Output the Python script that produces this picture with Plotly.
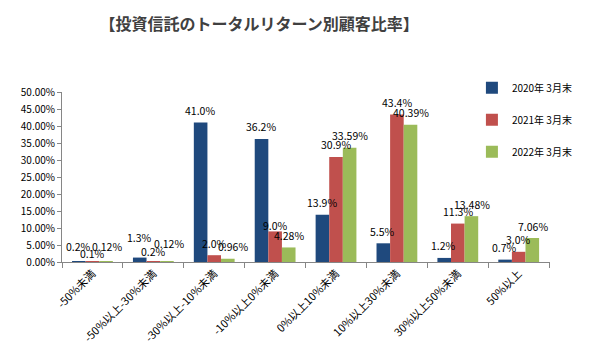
import plotly.graph_objects as go

categories = ["-50%未満", "-50%以上-30%未満", "-30%以上-10%未満", "-10%以上0%未満",
              "0%以上10%未満", "10%以上30%未満", "30%以上50%未満", "50%以上"]
series_names = ["2020年 3月末", "2021年 3月末", "2022年 3月末"]
values_2020 = [0.2, 1.3, 41.0, 36.2, 13.9, 5.5, 1.2, 0.7]
values_2021 = [0.1, 0.2, 2.0, 9.0, 30.9, 43.4, 11.3, 3.0]
values_2022 = [0.12, 0.12, 0.96, 4.28, 33.59, 40.39, 13.48, 7.06]
y_ticks = [0, 5, 10, 15, 20, 25, 30, 35, 40, 45, 50]

# styling
colors = ["#1F497D", "#C0504D", "#9BBB59"]
label_fmt = ["{:.1f}%", "{:.1f}%", "{:.2f}%"]
FONT = "Noto Sans CJK JP, Noto Sans, sans-serif"
BAR_PX = 14.3          # approximate bar width in pixels (for label centring)
BASE_LIFT = 12         # label centre above bar top, px
# manual nudges of a few labels (series, category index) -> (dx, dy) px, as in the source
nudges = {(0, 0): (0, 3), (1, 0): (0, -4), (2, 0): (0, 3),
          (0, 1): (0, 8), (1, 1): (0, -2), (2, 1): (1, 6),
          (2, 2): (4, 0), (1, 3): (0, -6)}

all_series = [values_2020, values_2021, values_2022]

fig = go.Figure()
for i, (name, vals) in enumerate(zip(series_names, all_series)):
    fig.add_trace(go.Bar(
        x=categories, y=vals, name=name,
        marker=dict(color=colors[i], line=dict(width=0)),
        legendgroup=str(i),
    ))

annotations = []
for i, vals in enumerate(all_series):
    for j, (c, v) in enumerate(zip(categories, vals)):
        dx, dy = nudges.get((i, j), (0, 0))
        annotations.append(dict(
            x=c, y=v, xref="x", yref="y", text=label_fmt[i].format(v),
            showarrow=False, xanchor="center", yanchor="middle",
            xshift=(i - 1) * BAR_PX + dx, yshift=BASE_LIFT + dy,
            font=dict(family=FONT, size=10.5, color="#000000"),
        ))

fig.update_layout(
    width=589, height=350,
    margin=dict(l=62, r=15, t=92, b=88),
    paper_bgcolor="white", plot_bgcolor="white",
    barmode="group", bargap=0.33, bargroupgap=0,
    title=dict(text="<b>【投資信託のトータルリターン別顧客比率】</b>",
               x=0.44, xanchor="center", y=0.93, yanchor="middle",
               font=dict(family=FONT, size=16, color="#404040")),
    font=dict(family=FONT, size=10.5, color="#000000"),
    annotations=annotations,
    showlegend=True,
    legend=dict(x=0.84, y=1.11, xanchor="left", yanchor="top",
                bgcolor="rgba(0,0,0,0)", tracegroupgap=13,
                font=dict(family=FONT, size=10, color="#000000"),
                itemwidth=30),
    xaxis=dict(showline=True, linecolor="#868686", linewidth=1, automargin=False,
               ticks="outside", tickson="boundaries", ticklen=5, tickcolor="#868686",
               tickangle=-45, tickfont=dict(family=FONT, size=11, color="#000000"),
               showgrid=False, zeroline=False),
    yaxis=dict(range=[0, 50], tickvals=y_ticks, automargin=False,
               ticktext=[f"{v:.2f}%" for v in y_ticks],
               showline=True, linecolor="#868686", linewidth=1,
               ticks="outside", ticklen=4, tickcolor="#868686",
               tickfont=dict(family=FONT, size=10, color="#000000"),
               showgrid=False, zeroline=False),
)

fig.write_html("out.html")
